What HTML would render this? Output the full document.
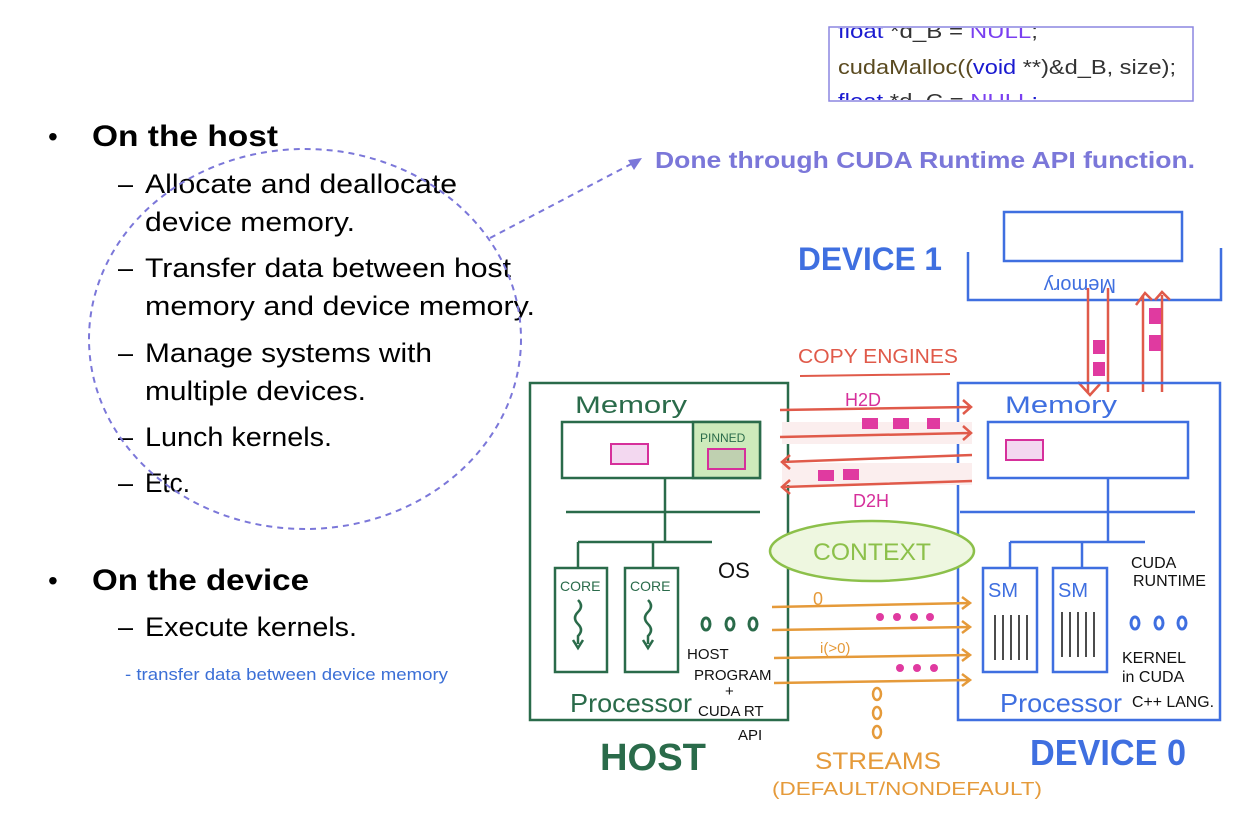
<!DOCTYPE html>
<html><head><meta charset="utf-8"><style>
body{margin:0;background:#fff;width:1258px;height:813px;overflow:hidden}
svg{display:block}
.t{font-family:"Liberation Sans",sans-serif}
.h{font-family:"Liberation Sans",sans-serif;font-weight:bold}
</style></head><body>
<svg width="1258" height="813" viewBox="0 0 1258 813" xmlns="http://www.w3.org/2000/svg">
<g class="t" fill="#000">
<text x="48" y="146" font-size="28">•</text>
<text x="92" y="146" font-size="30" font-weight="bold" textLength="186" lengthAdjust="spacingAndGlyphs">On the host</text>
<g font-size="27">
<text x="118" y="193">–</text><text x="145" y="193" textLength="312" lengthAdjust="spacingAndGlyphs">Allocate and deallocate</text>
<text x="145" y="231" textLength="210" lengthAdjust="spacingAndGlyphs">device memory.</text>
<text x="118" y="277">–</text><text x="145" y="277" textLength="366" lengthAdjust="spacingAndGlyphs">Transfer data between host</text>
<text x="145" y="315" textLength="390" lengthAdjust="spacingAndGlyphs">memory and device memory.</text>
<text x="118" y="362">–</text><text x="145" y="362" textLength="287" lengthAdjust="spacingAndGlyphs">Manage systems with</text>
<text x="145" y="400" textLength="221" lengthAdjust="spacingAndGlyphs">multiple devices.</text>
<text x="118" y="446">–</text><text x="145" y="446" textLength="187" lengthAdjust="spacingAndGlyphs">Lunch kernels.</text>
<text x="118" y="492">–</text><text x="145" y="492" textLength="45" lengthAdjust="spacingAndGlyphs">Etc.</text>
</g>
<text x="48" y="590" font-size="28">•</text>
<text x="92" y="590" font-size="30" font-weight="bold" textLength="217" lengthAdjust="spacingAndGlyphs">On the device</text>
<text x="118" y="636" font-size="27">–</text><text x="145" y="636" font-size="27" textLength="212" lengthAdjust="spacingAndGlyphs">Execute kernels.</text>
</g>
<text x="125" y="680" class="t" font-size="17" fill="#3b6fd6" textLength="323" lengthAdjust="spacingAndGlyphs">- transfer data between device memory</text>
<ellipse cx="305" cy="339" rx="216" ry="190" fill="none" stroke="#7b77d9" stroke-width="2" stroke-dasharray="6,5"/>
<line x1="490" y1="238" x2="635" y2="162" stroke="#7b77d9" stroke-width="2" stroke-dasharray="6,5"/>
<polygon points="642,158 628,160 634,170" fill="#7b77d9"/>
<text x="655" y="168" class="t" font-weight="bold" font-size="23" fill="#7b77d9" textLength="540" lengthAdjust="spacingAndGlyphs">Done through CUDA Runtime API function.</text>
<rect x="829" y="27" width="364" height="74" fill="#fff" stroke="#8c86e0" stroke-width="1.5"/>
<clipPath id="c"><rect x="830" y="28" width="362" height="72"/></clipPath>
<g clip-path="url(#c)" class="t" font-size="20">
<text x="838" y="38" fill="#1a1ad0" textLength="200" lengthAdjust="spacingAndGlyphs">float <tspan fill="#333">*d_B = </tspan><tspan fill="#7a3ff0">NULL</tspan><tspan fill="#333">;</tspan></text>
<text x="838" y="74" fill="#5a4a20" textLength="338" lengthAdjust="spacingAndGlyphs">cudaMalloc((<tspan fill="#1a1ad0">void</tspan><tspan fill="#333"> **)&amp;d_B, size);</tspan></text>
<text x="838" y="108" fill="#1a1ad0" textLength="200" lengthAdjust="spacingAndGlyphs">float <tspan fill="#333">*d_C = </tspan><tspan fill="#7a3ff0">NULL</tspan>;</text>
</g>
<text x="798" y="270" class="h" font-size="32" fill="#3f6fe0" textLength="144" lengthAdjust="spacingAndGlyphs">DEVICE 1</text>
<rect x="1004" y="212" width="178" height="49" fill="none" stroke="#3f6fe0" stroke-width="2.5"/>
<polyline points="968,252 968,300 1221,300 1221,248" fill="none" stroke="#3f6fe0" stroke-width="2.5"/>
<text x="1116" y="265" class="t" font-size="20" fill="#3f6fe0" transform="rotate(180 1116 272)">Memory</text>
<g stroke="#e05a4a" stroke-width="2.5" fill="none">
<line x1="1088" y1="288" x2="1088" y2="392"/><line x1="1108" y1="288" x2="1108" y2="392"/>
<line x1="1143" y1="295" x2="1143" y2="392"/><line x1="1162" y1="295" x2="1162" y2="392"/>
<polyline points="1078,382 1090,395 1100,384"/>
<polyline points="1136,305 1145,293 1152,300"/><polyline points="1155,300 1162,292 1170,300"/>
</g>
<g fill="#e03aa0"><rect x="1093" y="340" width="12" height="14"/><rect x="1093" y="362" width="12" height="14"/><rect x="1149" y="308" width="12" height="16"/><rect x="1149" y="335" width="12" height="16"/></g>
<text x="798" y="363" class="t" font-size="20" fill="#e05a4a" textLength="160" lengthAdjust="spacingAndGlyphs">COPY ENGINES</text>
<line x1="800" y1="376" x2="950" y2="374" stroke="#e05a4a" stroke-width="2"/>
<rect x="530" y="383" width="258" height="337" fill="none" stroke="#2a6b4a" stroke-width="2.5"/>
<text x="575" y="413" class="t" font-size="24" fill="#2a6b4a" textLength="112" lengthAdjust="spacingAndGlyphs">Memory</text>
<rect x="562" y="422" width="198" height="56" fill="none" stroke="#2a6b4a" stroke-width="2.5"/>
<rect x="693" y="422" width="67" height="56" fill="#cdeabb" stroke="#2a6b4a" stroke-width="2.5"/>
<text x="700" y="442" class="t" font-size="12" fill="#2a6b4a">PINNED</text>
<rect x="611" y="444" width="37" height="20" fill="#f3d8f0" stroke="#d6309b" stroke-width="2"/>
<rect x="708" y="449" width="37" height="20" fill="#bfd0b0" stroke="#d6309b" stroke-width="2"/>
<g stroke="#2a6b4a" stroke-width="2.5" fill="none">
<line x1="665" y1="478" x2="665" y2="542"/><line x1="566" y1="512" x2="760" y2="512"/>
<line x1="578" y1="542" x2="712" y2="542"/><line x1="578" y1="542" x2="578" y2="568"/><line x1="653" y1="542" x2="653" y2="568"/>
<rect x="555" y="568" width="52" height="104"/><rect x="625" y="568" width="53" height="104"/>
<path d="M578,600 q6,6 0,12 q-6,6 0,12 q6,6 0,12 l0,8 M573,640 l5,8 5,-8"/>
<path d="M648,600 q6,6 0,12 q-6,6 0,12 q6,6 0,12 l0,8 M643,640 l5,8 5,-8"/>
</g>
<text x="560" y="591" class="t" font-size="14" fill="#2a6b4a">CORE</text>
<text x="630" y="591" class="t" font-size="14" fill="#2a6b4a">CORE</text>
<text x="718" y="578" class="t" font-size="22" fill="#111">OS</text>
<g fill="none" stroke="#2a6b4a" stroke-width="3"><ellipse cx="706" cy="624" rx="4" ry="6"/><ellipse cx="730" cy="624" rx="4" ry="6"/><ellipse cx="753" cy="624" rx="4" ry="6"/></g>
<g class="t" font-size="15" fill="#111"><text x="687" y="659">HOST</text><text x="694" y="680">PROGRAM</text><text x="725" y="696">+</text><text x="698" y="716">CUDA RT</text><text x="738" y="740">API</text></g>
<text x="570" y="712" class="t" font-size="26" fill="#2a6b4a" textLength="122" lengthAdjust="spacingAndGlyphs">Processor</text>
<text x="600" y="770" class="h" font-size="38" fill="#2a6b4a" textLength="106" lengthAdjust="spacingAndGlyphs">HOST</text>
<rect x="958" y="383" width="262" height="337" fill="none" stroke="#3f6fe0" stroke-width="2.5"/>
<text x="1005" y="413" class="t" font-size="24" fill="#3f6fe0" textLength="112" lengthAdjust="spacingAndGlyphs">Memory</text>
<rect x="988" y="422" width="200" height="56" fill="none" stroke="#3f6fe0" stroke-width="2.5"/>
<rect x="1006" y="440" width="37" height="20" fill="#f3d8f0" stroke="#d6309b" stroke-width="2"/>
<g stroke="#3f6fe0" stroke-width="2.5" fill="none">
<line x1="1108" y1="478" x2="1108" y2="542"/><line x1="960" y1="512" x2="1195" y2="512"/>
<line x1="1010" y1="542" x2="1145" y2="542"/><line x1="1010" y1="542" x2="1010" y2="568"/><line x1="1082" y1="542" x2="1082" y2="568"/>
<rect x="983" y="568" width="54" height="104"/><rect x="1053" y="568" width="54" height="104"/>
</g>
<text x="988" y="597" class="t" font-size="20" fill="#3f6fe0">SM</text>
<text x="1058" y="597" class="t" font-size="20" fill="#3f6fe0">SM</text>
<g stroke="#111" stroke-width="1.5" fill="none">
<path d="M995,615 v45 M1003,615 v45 M1011,615 v45 M1019,615 v45 M1027,615 v45"/>
<path d="M1062,612 v45 M1070,612 v45 M1078,612 v45 M1086,612 v45 M1094,612 v45"/>
</g>
<g class="t" font-size="16" fill="#111"><text x="1131" y="568">CUDA</text><text x="1133" y="586">RUNTIME</text>
<text x="1122" y="663">KERNEL</text><text x="1122" y="682">in CUDA</text><text x="1132" y="707" textLength="82" lengthAdjust="spacingAndGlyphs">C++ LANG.</text></g>
<g fill="none" stroke="#3f6fe0" stroke-width="3"><ellipse cx="1135" cy="623" rx="4" ry="6"/><ellipse cx="1159" cy="623" rx="4" ry="6"/><ellipse cx="1182" cy="623" rx="4" ry="6"/></g>
<text x="1000" y="712" class="t" font-size="26" fill="#3f6fe0" textLength="122" lengthAdjust="spacingAndGlyphs">Processor</text>
<text x="1030" y="765" class="h" font-size="36" fill="#3f6fe0" textLength="156" lengthAdjust="spacingAndGlyphs">DEVICE 0</text>
<rect x="782" y="422" width="190" height="22" fill="#fbeeee"/>
<rect x="782" y="463" width="190" height="22" fill="#fbeeee"/>
<g stroke="#e05a4a" stroke-width="2.5" fill="none">
<path d="M780,410 L970,407 M963,400 l8,7 -8,7"/><path d="M780,437 L970,433 M963,426 l8,7 -8,7"/>
<path d="M972,455 L782,462 M790,455 l-8,7 8,7"/><path d="M972,481 L782,487 M790,480 l-8,7 8,7"/>
</g>
<text x="845" y="406" class="t" font-size="18" fill="#d6309b">H2D</text>
<text x="853" y="507" class="t" font-size="18" fill="#d6309b">D2H</text>
<g fill="#e03aa0"><rect x="862" y="418" width="16" height="11"/><rect x="893" y="418" width="16" height="11"/><rect x="927" y="418" width="13" height="11"/><rect x="818" y="470" width="16" height="11"/><rect x="843" y="469" width="16" height="11"/></g>
<ellipse cx="872" cy="551" rx="102" ry="30" fill="#eef7e0" stroke="#8cc04a" stroke-width="2.5"/>
<text x="813" y="560" class="t" font-size="24" fill="#8cc04a" textLength="118" lengthAdjust="spacingAndGlyphs">CONTEXT</text>
<g stroke="#e59a3a" stroke-width="2.5" fill="none">
<path d="M772,607 L970,603 M962,597 l8,6 -8,6"/><path d="M772,630 L970,627 M962,621 l8,6 -8,6"/>
<path d="M774,658 L970,655 M962,649 l8,6 -8,6"/><path d="M774,683 L970,680 M962,674 l8,6 -8,6"/>
<ellipse cx="877" cy="694" rx="4" ry="6"/><ellipse cx="877" cy="713" rx="4" ry="6"/><ellipse cx="877" cy="732" rx="4" ry="6"/>
</g>
<text x="813" y="605" class="t" font-size="18" fill="#e59a3a">0</text>
<text x="820" y="653" class="t" font-size="15" fill="#e59a3a">i(&gt;0)</text>
<g fill="#e03aa0"><circle cx="880" cy="617" r="4"/><circle cx="897" cy="617" r="4"/><circle cx="914" cy="617" r="4"/><circle cx="930" cy="617" r="4"/><circle cx="900" cy="668" r="4"/><circle cx="917" cy="668" r="4"/><circle cx="934" cy="668" r="4"/></g>
<text x="815" y="769" class="t" font-size="24" fill="#e59a3a" textLength="126" lengthAdjust="spacingAndGlyphs">STREAMS</text>
<text x="772" y="795" class="t" font-size="18" fill="#e59a3a" textLength="270" lengthAdjust="spacingAndGlyphs">(DEFAULT/NONDEFAULT)</text>
</svg>
</body></html>
